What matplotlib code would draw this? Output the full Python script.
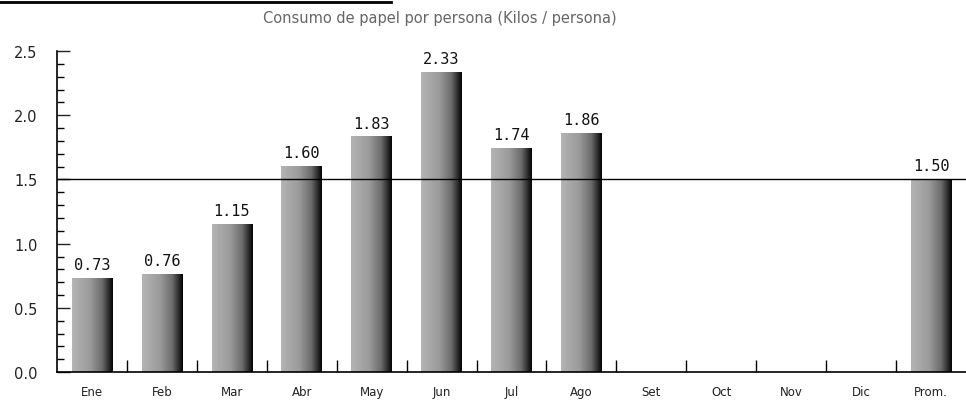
import numpy as np
import matplotlib.pyplot as plt
from matplotlib.colors import LinearSegmentedColormap
from matplotlib.ticker import MultipleLocator

meses = ["Ene", "Feb", "Mar", "Abr", "May", "Jun", "Jul", "Ago",
         "Set", "Oct", "Nov", "Dic", "Prom."]
consumo = [0.73, 0.76, 1.15, 1.60, 1.83, 2.33, 1.74, 1.86,
           None, None, None, None, 1.50]
promedio = 1.50

fig = plt.figure(figsize=(9.66, 4.06), dpi=100)
ax = fig.add_axes([0.059, 0.081, 0.941, 0.791])

# grey-to-black shading like the original print
cmap = LinearSegmentedColormap.from_list(
    "papel", [(0, "#b4b4b4"), (0.45, "#9a9a9a"), (0.75, "#6a6a6a"), (1, "#050505")])
grad = np.linspace(0, 1, 64).reshape(1, -1)

w = 0.58
for i, v in enumerate(consumo):
    if v is None:
        continue
    ax.imshow(grad, cmap=cmap, aspect="auto", interpolation="bilinear",
              extent=(i - w / 2, i + w / 2, 0, v), zorder=2)
    ax.text(i, v + 0.05, f"{v:.2f}", ha="center", va="bottom",
            family="DejaVu Sans Mono", fontsize=11, color="#111111")

ax.axhline(promedio, color="black", lw=1.0, zorder=3)

ax.set_xlim(-0.5, len(meses) - 0.5)
ax.set_ylim(0, 2.5)

ax.spines["top"].set_visible(False)
ax.spines["right"].set_visible(False)
ax.spines["left"].set_linewidth(1.2)
ax.spines["bottom"].set_linewidth(1.2)

ax.set_yticks([0, 0.5, 1.0, 1.5, 2.0, 2.5])
ax.set_yticklabels(["0.0", "0.5", "1.0", "1.5", "2.0", "2.5"])
ax.yaxis.set_minor_locator(MultipleLocator(0.1))
ax.tick_params(axis="y", which="major", direction="in", length=9, width=1,
               labelsize=10.5, pad=14, colors="#222222")
ax.tick_params(axis="y", which="minor", direction="in", length=5, width=1)

ax.set_xticks(range(len(meses)))
ax.set_xticklabels(meses)
ax.set_xticks(np.arange(0.5, len(meses) - 1, 1), minor=True)
ax.tick_params(axis="x", which="major", length=0, labelsize=8.5, pad=9,
               colors="#222222")
ax.tick_params(axis="x", which="minor", direction="in", length=9, width=1)

fig.text(0.455, 0.955, "Consumo de papel por persona (Kilos / persona)",
         ha="center", va="center", fontsize=10.5, color="#666666")

# scan border remnant at the top
fig.add_artist(plt.Line2D([0, 0.405], [0.993, 0.993], color="black", lw=2))

fig.savefig("out.png", dpi=100)
